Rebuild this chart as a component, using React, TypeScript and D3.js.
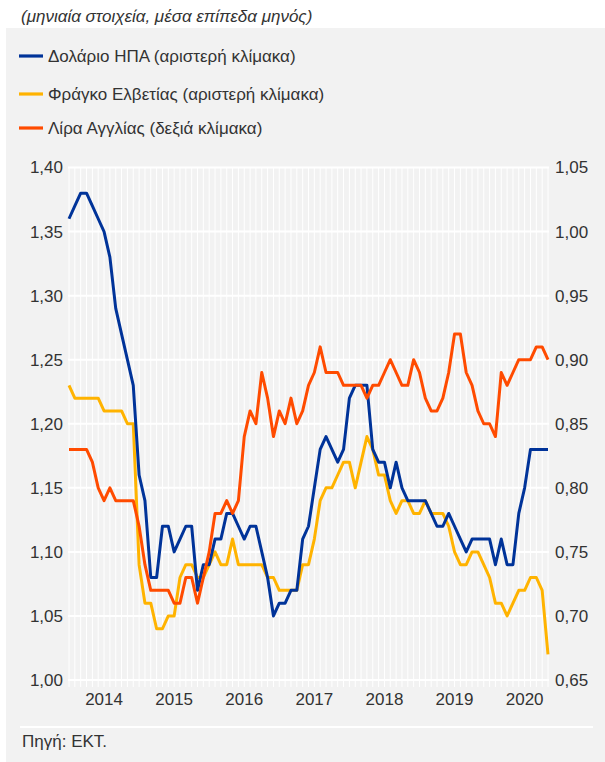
import React from 'react';
import * as d3 from 'd3';

// Monthly data: Jan 2014 .. Nov 2020 (83 months)
const firstYear = 2014;
const yearLabels = ['2014', '2015', '2016', '2017', '2018', '2019', '2020'];
const leftTicks = [1.0, 1.05, 1.1, 1.15, 1.2, 1.25, 1.3, 1.35, 1.4];
const rightTicks = [0.65, 0.7, 0.75, 0.8, 0.85, 0.9, 0.95, 1.0, 1.05];

// USD (left scale)
const usd = [
  1.36, 1.37, 1.38, 1.38, 1.37, 1.36, 1.35, 1.33, 1.29, 1.27, 1.25, 1.23,
  1.16, 1.14, 1.08, 1.08, 1.12, 1.12, 1.10, 1.11, 1.12, 1.12, 1.07, 1.09,
  1.09, 1.11, 1.11, 1.13, 1.13, 1.12, 1.11, 1.12, 1.12, 1.10, 1.08, 1.05,
  1.06, 1.06, 1.07, 1.07, 1.11, 1.12, 1.15, 1.18, 1.19, 1.18, 1.17, 1.18,
  1.22, 1.23, 1.23, 1.23, 1.18, 1.17, 1.17, 1.15, 1.17, 1.15, 1.14, 1.14,
  1.14, 1.14, 1.13, 1.12, 1.12, 1.13, 1.12, 1.11, 1.10, 1.11, 1.11, 1.11,
  1.11, 1.09, 1.11, 1.09, 1.09, 1.13, 1.15, 1.18, 1.18, 1.18, 1.18,
];

// CHF (left scale)
const chf = [
  1.23, 1.22, 1.22, 1.22, 1.22, 1.22, 1.21, 1.21, 1.21, 1.21, 1.20, 1.20,
  1.09, 1.06, 1.06, 1.04, 1.04, 1.05, 1.05, 1.08, 1.09, 1.09, 1.08, 1.08,
  1.09, 1.10, 1.09, 1.09, 1.11, 1.09, 1.09, 1.09, 1.09, 1.09, 1.08, 1.08,
  1.07, 1.07, 1.07, 1.07, 1.09, 1.09, 1.11, 1.14, 1.15, 1.15, 1.16, 1.17,
  1.17, 1.15, 1.17, 1.19, 1.18, 1.16, 1.16, 1.14, 1.13, 1.14, 1.14, 1.13,
  1.13, 1.14, 1.13, 1.13, 1.13, 1.12, 1.10, 1.09, 1.09, 1.10, 1.10, 1.09,
  1.08, 1.06, 1.06, 1.05, 1.06, 1.07, 1.07, 1.08, 1.08, 1.07, 1.02,
];

// GBP (right scale)
const gbp = [
  0.83, 0.83, 0.83, 0.83, 0.82, 0.80, 0.79, 0.80, 0.79, 0.79, 0.79, 0.79,
  0.77, 0.74, 0.72, 0.72, 0.72, 0.72, 0.71, 0.71, 0.73, 0.73, 0.71, 0.73,
  0.75, 0.78, 0.78, 0.79, 0.78, 0.79, 0.84, 0.86, 0.85, 0.89, 0.87, 0.84,
  0.86, 0.85, 0.87, 0.85, 0.86, 0.88, 0.89, 0.91, 0.89, 0.89, 0.89, 0.88,
  0.88, 0.88, 0.88, 0.87, 0.88, 0.88, 0.89, 0.90, 0.89, 0.88, 0.88, 0.90,
  0.89, 0.87, 0.86, 0.86, 0.87, 0.89, 0.92, 0.92, 0.89, 0.88, 0.86, 0.85,
  0.85, 0.84, 0.89, 0.88, 0.89, 0.90, 0.90, 0.90, 0.91, 0.91, 0.90,
];

const seriesNames = [
  'Δολάριο ΗΠΑ (αριστερή κλίμακα)',
  'Φράγκο Ελβετίας (αριστερή κλίμακα)',
  'Λίρα Αγγλίας (δεξιά κλίμακα)',
];
const seriesColors = ['#003399', '#FFB300', '#FF4B00'];

const title = '(μηνιαία στοιχεία, μέσα επίπεδα μηνός)';
const source = 'Πηγή: ΕΚΤ.';

const W = 605;
const H = 762;
const FONT = '"Liberation Sans", Arial, Helvetica, sans-serif';
const TEXT = '#333333';

export default function App() {
  const n = usd.length;
  const x = d3.scaleLinear().domain([0, n - 1]).range([69, 548]);
  const yL = d3.scaleLinear().domain([1.0, 1.4]).range([680, 167.5]);
  const yR = d3.scaleLinear().domain([0.65, 1.05]).range([680, 167.5]);

  const lineL = d3
    .line<number>()
    .x((_, i) => x(i))
    .y((d) => yL(d));
  const lineR = d3
    .line<number>()
    .x((_, i) => x(i))
    .y((d) => yR(d));

  const idx = d3.range(n);
  const legendY = [56, 94, 128];

  return (
    <svg
      width={W}
      height={H}
      style={{ position: 'absolute', left: 0, top: 0, display: 'block' }}
      fontFamily={FONT}
    >
      <rect x={0} y={0} width={W} height={H} fill="#ffffff" />
      <rect x={6} y={28} width={W - 6} height={H - 28} fill="#f2f2f2" />
      <text x={21} y={22} fontSize={17} fontStyle="italic" fill={TEXT}>
        {title}
      </text>

      {seriesNames.map((name, i) => (
        <g key={name}>
          <line
            x1={19}
            x2={43}
            y1={legendY[i]}
            y2={legendY[i]}
            stroke={seriesColors[i]}
            strokeWidth={3.2}
          />
          <text x={48} y={legendY[i] + 6} fontSize={17} fill={TEXT}>
            {name}
          </text>
        </g>
      ))}

      {/* vertical monthly gridlines */}
      {idx.map((i) => (
        <line
          key={'v' + i}
          x1={x(i)}
          x2={x(i)}
          y1={167.5}
          y2={687}
          stroke="#ffffff"
          strokeWidth={1}
        />
      ))}
      {/* horizontal gridlines */}
      {leftTicks.map((t) => (
        <line
          key={'h' + t}
          x1={68}
          x2={549}
          y1={yL(t)}
          y2={yL(t)}
          stroke="#ffffff"
          strokeWidth={2}
        />
      ))}

      {/* left axis labels */}
      {leftTicks.map((t) => (
        <text
          key={'l' + t}
          x={63}
          y={yL(t)}
          dy="0.35em"
          textAnchor="end"
          fontSize={17}
          fill={TEXT}
        >
          {t.toFixed(2).replace('.', ',')}
        </text>
      ))}
      {/* right axis labels */}
      {rightTicks.map((t) => (
        <text
          key={'r' + t}
          x={555}
          y={yR(t)}
          dy="0.35em"
          textAnchor="start"
          fontSize={17}
          fill={TEXT}
        >
          {t.toFixed(2).replace('.', ',')}
        </text>
      ))}
      {/* year labels */}
      {yearLabels.map((yl) => (
        <text
          key={yl}
          x={x((+yl - firstYear) * 12 + 6)}
          y={705}
          textAnchor="middle"
          fontSize={17}
          fill={TEXT}
        >
          {yl}
        </text>
      ))}

      {/* series */}
      <path d={lineL(chf) || ''} fill="none" stroke={seriesColors[1]} strokeWidth={3} strokeLinejoin="round" />
      <path d={lineL(usd) || ''} fill="none" stroke={seriesColors[0]} strokeWidth={3} strokeLinejoin="round" />
      <path d={lineR(gbp) || ''} fill="none" stroke={seriesColors[2]} strokeWidth={3} strokeLinejoin="round" />

      <line x1={20} x2={593} y1={727} y2={727} stroke="#ffffff" strokeWidth={2} />
      <text x={22} y={747} fontSize={17} fill={TEXT}>
        {source}
      </text>
    </svg>
  );
}
